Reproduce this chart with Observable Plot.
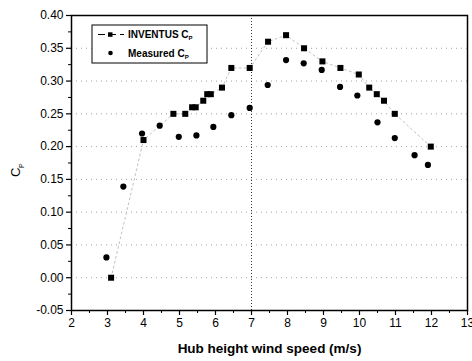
<!DOCTYPE html>
<html>
<head>
<meta charset="utf-8">
<script src="https://cdn.jsdelivr.net/npm/d3@7"></script>
<script src="https://cdn.jsdelivr.net/npm/@observablehq/plot@0.6"></script>
<style>
  html, body { margin: 0; padding: 0; background: #fff; }
  #chart { width: 472px; height: 361px; }
</style>
</head>
<body>
<div id="chart"></div>
<script>
// INVENTUS predicted Cp (squares, dashed connecting line)
const invSpeed = [3.1, 4.0, 4.83, 5.16, 5.35, 5.45, 5.66, 5.77, 5.87, 6.18, 6.44, 6.95, 7.46, 7.96, 8.46, 8.97, 9.47, 9.98, 10.27, 10.48, 10.68, 10.98, 11.98];
const invCp    = [0.00, 0.21, 0.25, 0.25, 0.26, 0.26, 0.27, 0.28, 0.28, 0.29, 0.32, 0.32, 0.36, 0.37, 0.35, 0.33, 0.32, 0.31, 0.29, 0.28, 0.27, 0.25, 0.20];
// Measured Cp (circles)
const measSpeed = [2.97, 3.44, 3.96, 4.45, 4.98, 5.47, 5.94, 6.44, 6.95, 7.45, 7.96, 8.45, 8.95, 9.46, 9.94, 10.5, 10.98, 11.53, 11.9];
const measCp    = [0.031, 0.139, 0.22, 0.232, 0.215, 0.217, 0.23, 0.248, 0.259, 0.294, 0.332, 0.327, 0.317, 0.291, 0.278, 0.237, 0.213, 0.187, 0.172];

const xTicks = [2, 3, 4, 5, 6, 7, 8, 9, 10, 11, 12, 13];
const xMinor = [2.5, 3.5, 4.5, 5.5, 6.5, 7.5, 8.5, 9.5, 10.5, 11.5, 12.5];
const yTicks = [-0.05, 0.00, 0.05, 0.10, 0.15, 0.20, 0.25, 0.30, 0.35, 0.40];
const yMinor = [-0.025, 0.025, 0.075, 0.125, 0.175, 0.225, 0.275, 0.325, 0.375];
const yGrid  = [0.00, 0.05, 0.10, 0.15, 0.20, 0.25, 0.30, 0.35];
const xGrid  = [7];

const xLabel = "Hub height wind speed (m/s)";
const legendLabels = ["INVENTUS C", "Measured C"];

const inv = invSpeed.map((s, i) => ({speed: s, cp: invCp[i]}));
const meas = measSpeed.map((s, i) => ({speed: s, cp: measCp[i]}));

const font = "'Liberation Sans', Arial, sans-serif";

const chart = Plot.plot({
  width: 472,
  height: 361,
  marginLeft: 71,
  marginRight: 5,
  marginTop: 15,
  marginBottom: 51,
  style: {fontFamily: font, fontSize: "12px", color: "#000", background: "#fff"},
  x: {domain: [2, 13]},
  y: {domain: [-0.05, 0.40]},
  marks: [
    Plot.ruleY(yGrid, {stroke: "#888", strokeWidth: 0.8, strokeDasharray: "1,4"}),
    Plot.ruleX(xGrid, {stroke: "#222", strokeWidth: 0.9, strokeDasharray: "1,2"}),
    Plot.line(inv, {x: "speed", y: "cp", stroke: "#b0b0b0", strokeWidth: 0.8, strokeDasharray: "2,3"}),
    Plot.dot(meas, {x: "speed", y: "cp", r: 3.1, fill: "#000", stroke: "none"}),
    Plot.dot(inv, {x: "speed", y: "cp", symbol: "square", r: 3.4, fill: "#000", stroke: "none"}),
    Plot.axisX(xTicks, {tickSize: 5, tickPadding: 3, fontSize: 12, tickFormat: d => String(d), label: null, strokeWidth: 1.2}),
    Plot.axisX(xMinor, {tickSize: 3, tickFormat: () => "", label: null, strokeWidth: 1}),
    Plot.axisY(yTicks, {tickSize: 5, tickPadding: 3, fontSize: 12, tickFormat: d => d.toFixed(2), label: null, strokeWidth: 1.2}),
    Plot.axisY(yMinor, {tickSize: 3, tickFormat: () => "", label: null, strokeWidth: 1}),
    Plot.frame({stroke: "#000", strokeWidth: 1.5}),
    Plot.text([xLabel], {frameAnchor: "bottom", dy: 42, fontSize: 13.5, fontWeight: "bold", fill: "#000"}),
    Plot.text(["C"], {frameAnchor: "left", dx: -56, dy: 14, rotate: -90, fontSize: 13, fill: "#000"}),
    Plot.text(["P"], {frameAnchor: "left", dx: -50, dy: 5, rotate: -90, fontSize: 7, fill: "#000"})
  ]
});

document.getElementById("chart").appendChild(chart);

// Legend (inside plot, upper-left)
const svg = d3.select(chart);
const lg = svg.append("g").attr("font-family", font).attr("font-size", 10)
  .attr("font-weight", "bold").attr("text-anchor", "start");
lg.append("rect").attr("x", 92).attr("y", 25).attr("width", 115).attr("height", 38)
  .attr("fill", "#fff").attr("stroke", "#000").attr("stroke-width", 1);
// row 1
lg.append("line").attr("x1", 98).attr("x2", 124).attr("y1", 34.5).attr("y2", 34.5)
  .attr("stroke", "#000").attr("stroke-width", 1).attr("stroke-dasharray", "7,4");
lg.append("rect").attr("x", 108).attr("y", 32.3).attr("width", 4.5).attr("height", 4.5).attr("fill", "#000");
const t1 = lg.append("text").attr("x", 128).attr("y", 38).attr("fill", "#000").text(legendLabels[0]);
t1.append("tspan").attr("font-size", 6).attr("dy", 2).text("P");
// row 2
lg.append("circle").attr("cx", 110.5).attr("cy", 53).attr("r", 2.3).attr("fill", "#000");
const t2 = lg.append("text").attr("x", 128).attr("y", 56.5).attr("fill", "#000").text(legendLabels[1]);
t2.append("tspan").attr("font-size", 6).attr("dy", 2).text("P");
</script>
</body>
</html>
